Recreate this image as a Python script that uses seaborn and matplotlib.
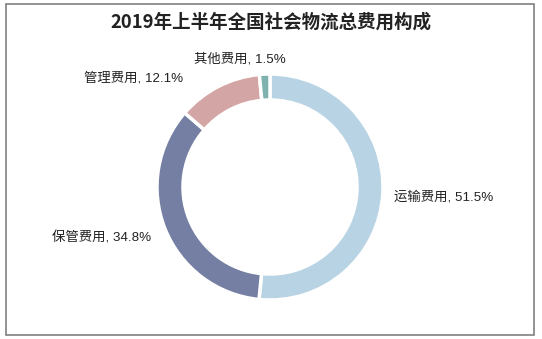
import numpy as np
import matplotlib
matplotlib.use("Agg")
import matplotlib.pyplot as plt
import seaborn as sns
from matplotlib.patches import Rectangle

categories = ["运输费用", "保管费用", "管理费用", "其他费用"]
values = [51.5, 34.8, 12.1, 1.5]
colors = ["#b8d4e4", "#747fa3", "#d4a5a5", "#7db2ae"]

sns.set_theme(style="white")
plt.rcParams['font.family'] = ['Noto Sans CJK SC', 'DejaVu Sans']

W, H = 542, 339
fig = plt.figure(figsize=(W / 100, H / 100), dpi=100)
fig.patch.set_facecolor("white")

cx, cy, R = 270, 187, 113
ax = fig.add_axes([(cx - R) / W, (H - cy - R) / H, 2 * R / W, 2 * R / H])
wedges, _ = ax.pie(values, colors=colors, startangle=90, counterclock=False,
                   radius=1.0, wedgeprops=dict(width=0.23, edgecolor="white", linewidth=2.5))
ax.set_xlim(-1, 1)
ax.set_ylim(-1, 1)
ax.set_aspect("equal")
ax.axis("off")

# label layout: distance from centre and small offsets per label
label_dist = [1.1, 1.13, 1.15, 1.13]
offsets = [(0.0, -0.04), (0.0, -0.03), (-0.24, -0.06), (-0.21, 0.0)]
has = ["left", "right", "right", "center"]
for w, cat, v, d, (dx, dy), ha in zip(wedges, categories, values, label_dist, offsets, has):
    ang = np.deg2rad((w.theta1 + w.theta2) / 2)
    x = d * np.cos(ang) + dx
    y = d * np.sin(ang) + dy
    ax.text(x, y, f"{cat}, {v}%", ha=ha, va="center", fontsize=9.6,
            color="#222222", clip_on=False,
            family=['Liberation Sans', 'Noto Sans CJK SC'])

fig.text(0.5, 1 - 22 / H, "2019年上半年全国社会物流总费用构成", ha="center", va="center",
         fontsize=13.3, fontweight="bold", color="#222222")

fig.patches.append(Rectangle((6 / W, 4 / H), (534 - 6) / W, (335 - 4) / H,
                             transform=fig.transFigure, fill=False,
                             edgecolor="#808080", linewidth=1.2))

fig.savefig("out.png", dpi=100)
